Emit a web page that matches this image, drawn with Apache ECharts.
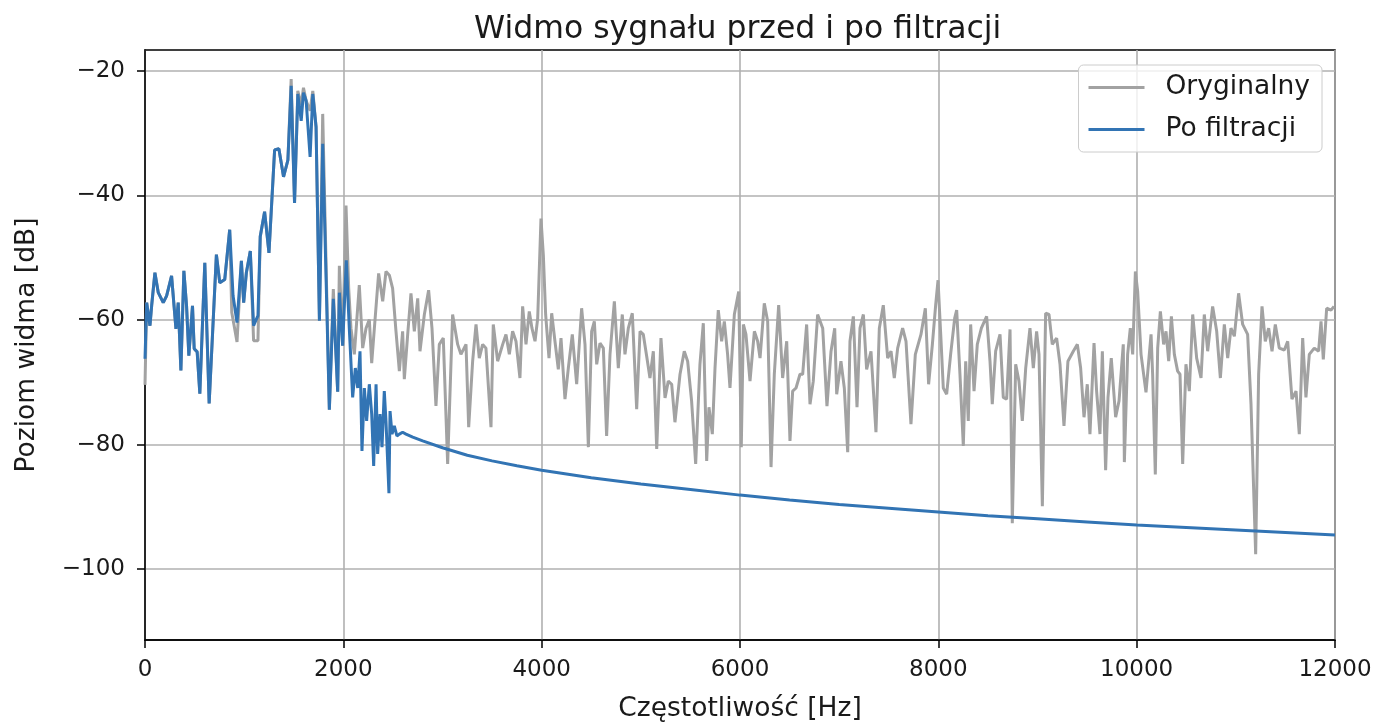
<!DOCTYPE html>
<html>
<head>
<meta charset="utf-8">
<script src="https://cdn.jsdelivr.net/npm/echarts@6/dist/echarts.min.js"></script>
<style>html,body{margin:0;padding:0;background:#fff}#c{width:1379px;height:728px}</style>
</head>
<body>
<div id="c"></div>
<script>
const titleText = 'Widmo sygnału przed i po filtracji';
const xName = 'Częstotliwość [Hz]';
const yName = 'Poziom widma [dB]';
const seriesNames = ['Oryginalny', 'Po filtracji'];
const xTicks = [0, 2000, 4000, 6000, 8000, 10000, 12000];
const yTicks = [-100, -80, -60, -40, -20];

const origFreq = [0,17,50,67,100,134,184,218,268,312,335,362,392,419,442,479,496,526,553,603,647,720,754,804,854,875,928,972,995,1022,1062,1095,1139,1162,1206,1250,1307,1350,1397,1441,1474,1508,1541,1575,1598,1625,1665,1692,1725,1759,1792,1859,1899,1943,1960,1993,2027,
2054,2077,2111,2161,2195,2229,2262,2286,2313,2356,2397,2430,2464,2497,2531,2565,2598,2615,2649,2682,2716,2750,2773,2817,2860,2894,2934,2968,3008,3052,3102,3153,3186,3237,3264,3304,3338,3371,3405,3438,3489,3512,3556,3607,3640,3674,3707,3741,3781,3808,3842,3875,3902,3933,3960,3993,
4017,4040,4074,4101,4134,4168,4195,4235,4269,4309,4353,4403,4437,4471,4504,4531,4555,4588,4622,4655,4689,4733,4773,4813,4840,4874,4914,4958,4992,5025,5059,5092,5126,5160,5203,5244,5277,5311,5344,5395,5438,5472,5512,5553,5596,5630,5664,5687,5721,5748,5781,5815,5842,5875,5899,5943,
5987,6013,6034,6060,6101,6145,6178,6202,6245,6279,6313,6346,6390,6430,6471,6504,6531,6565,6605,6632,6672,6706,6739,6783,6834,6877,6918,6955,6975,7018,7052,7086,7109,7143,7180,7210,7244,7277,7321,7371,7405,7445,7489,7523,7556,7590,7640,7674,7724,7768,7825,7869,7902,
7940,7973,7997,8024,8050,8084,8124,8165,8185,8218,8252,8276,8302,8326,8360,8393,8434,8487,8521,8544,8578,8622,8655,8689,8723,8746,8780,8813,8847,8881,8924,8958,8991,9015,9049,9082,9116,9149,9193,9227,9267,9307,9361,9402,9435,9469,9502,9529,9570,9596,9630,9654,9687,9711,9744,9788,9822,9865,
9876,9909,9936,9960,9987,10010,10044,10094,10145,10161,10188,10212,10239,10272,10296,10323,10350,10380,10413,10437,10464,10497,10531,10565,10605,10649,10682,10716,10766,10807,10844,10884,10918,10951,10985,11028,11069,11119,11153,11200,11230,11264,11297,11331,11365,11398,11438,11489,11523,11566,11607,11640,11674,11707,11741,11791,11835,11859,11882,11916,11960,11990];
const origDb = [-70.4,-57.2,-60.9,-57.7,-52.4,-55.6,-57.2,-56.1,-52.9,-61.4,-57.2,-68.1,-52.1,-57.7,-65.7,-57.7,-64.6,-65.1,-71.8,-50.8,-73.4,-49.5,-54.0,-53.5,-45.5,-58.8,-63.5,-50.5,-57.2,-52.4,-48.9,-63.3,-63.3,-46.6,-42.6,-49.2,-32.7,-32.5,-37.0,-34.3,-21.3,-41.2,-23.2,-25.5,-22.7,-24.8,-26.4,-23.2,-29.0,-60.1,-26.9,-74.4,-55.0,-71.5,-51.3,-64.1,-41.6,
-54.9,-61.3,-65.5,-54.4,-64.5,-61.3,-59.9,-66.9,-61.3,-52.5,-57.0,-52.2,-52.8,-54.9,-61.8,-68.2,-61.8,-69.5,-62.3,-55.7,-61.8,-56.5,-65.0,-59.1,-55.2,-61.3,-73.8,-63.9,-62.9,-83.1,-59.1,-63.9,-65.5,-63.9,-77.2,-66.6,-60.7,-66.1,-63.9,-64.5,-77.2,-60.7,-66.6,-63.9,-62.3,-65.5,-61.8,-63.4,-69.3,-57.8,-63.9,-58.6,-61.3,-63.4,-59.7,-43.7,
-49.6,-59.1,-66.1,-58.9,-63.4,-67.9,-62.9,-72.7,-67.7,-62.3,-70.3,-58.1,-63.9,-80.4,-61.8,-60.2,-67.1,-63.7,-64.5,-78.6,-65.5,-57.0,-67.7,-59.1,-65.5,-61.3,-58.9,-74.3,-61.8,-62.3,-65.8,-69.3,-65.0,-80.7,-62.9,-72.5,-69.8,-70.3,-76.4,-68.7,-65.0,-66.6,-73.0,-83.1,-67.1,-60.5,-82.6,-74.0,-78.3,-67.7,-58.4,-63.4,-60.2,-65.5,-70.9,-59.1,
-55.4,-80.4,-60.7,-62.3,-69.8,-61.8,-63.4,-66.1,-57.3,-60.2,-83.6,-68.7,-57.6,-69.3,-63.4,-79.4,-71.4,-70.9,-68.7,-68.7,-60.7,-73.5,-69.8,-59.1,-61.3,-73.8,-65.0,-61.3,-71.9,-66.6,-70.9,-81.2,-63.4,-59.4,-74.0,-61.3,-59.1,-67.9,-65.0,-78.0,-61.3,-57.6,-66.1,-65.0,-69.3,-64.5,-61.3,-63.4,-76.7,-65.5,-62.3,-58.1,-70.3,
-63.9,-57.6,-53.6,-62.3,-70.9,-71.9,-65.5,-59.7,-58.4,-68.7,-80.2,-66.6,-76.2,-60.7,-71.4,-63.9,-61.3,-59.4,-66.6,-73.5,-65.0,-62.3,-72.4,-72.7,-61.5,-92.6,-67.1,-69.8,-76.2,-67.7,-61.3,-67.7,-61.8,-65.5,-89.9,-58.9,-59.1,-63.9,-62.9,-67.1,-77.0,-66.6,-65.0,-63.9,-67.7,-75.6,-70.3,-78.3,-63.7,-71.4,-78.3,-65.0,-84.1,-72.4,-66.1,-75.6,-73.0,-63.9,
-82.8,-65.5,-61.3,-65.5,-52.2,-55.4,-65.5,-71.6,-62.3,-68.7,-84.8,-64.5,-58.6,-63.9,-61.8,-66.6,-59.4,-65.5,-68.2,-68.7,-83.1,-67.1,-71.4,-59.1,-66.1,-69.3,-59.1,-65.0,-57.8,-61.8,-69.3,-60.7,-66.1,-61.3,-62.6,-55.7,-60.7,-62.3,-73.5,-97.6,-68.7,-57.8,-63.4,-61.3,-65.0,-60.7,-64.5,-64.8,-63.4,-72.7,-71.4,-78.3,-62.9,-72.4,-65.5,-64.5,-65.0,-60.2,-66.3,-58.1,-58.4,-57.8];

const filtFreq = [0,17,50,67,100,134,184,218,268,312,335,362,392,419,442,479,496,526,553,603,647,720,754,804,854,888,928,972,995,1022,1062,1095,1139,1162,1206,1250,1307,1350,1397,1441,1474,1508,1541,1575,1598,1625,1665,1692,1725,1759,1792,1859,1899,1943,1960,1993,2030,
2060,2094,2121,2145,2168,2188,2212,2235,2262,2286,2306,2330,2346,2370,2390,2413,2430,2460,2471,2491,2514,2540,2565,2598,2632,
2700,2800,3000,3250,3500,3750,4000,4500,5000,5500,6000,6500,7000,7500,8000,8500,9000,9500,10000,10500,11000,11500,12000];
const filtDb = [-66.2,-57.2,-60.9,-57.7,-52.4,-55.6,-57.2,-56.1,-52.9,-61.4,-57.2,-68.1,-52.1,-57.7,-65.7,-57.7,-64.6,-65.1,-71.8,-50.8,-73.4,-49.5,-54.0,-53.5,-45.5,-56.1,-60.4,-50.5,-57.2,-52.4,-48.9,-60.9,-59.3,-46.6,-42.6,-49.2,-32.7,-32.5,-37.0,-34.3,-22.4,-41.2,-23.7,-28.0,-23.5,-24.8,-33.8,-23.7,-29.0,-60.1,-31.7,-74.4,-56.6,-71.5,-55.6,-64.1,-50.4,
-61.3,-72.4,-67.7,-70.9,-65.0,-81.0,-70.9,-76.2,-70.3,-75.1,-83.4,-70.3,-81.5,-75.1,-80.4,-71.4,-76.2,-87.8,-74.6,-78.3,-77.0,-78.6,-78.3,-78.0,-78.3,
-78.8,-79.4,-80.5,-81.7,-82.6,-83.4,-84.1,-85.3,-86.3,-87.2,-88.1,-88.9,-89.6,-90.2,-90.8,-91.4,-91.9,-92.4,-92.9,-93.3,-93.7,-94.1,-94.5];

const toPairs = (xs, ys) => xs.map((x, i) => [x, ys[i]]);
const minusFmt = v => String(v).replace('-', '\u2212');
const FONT = 'DejaVu Sans';
const TEXT = '#1a1a1a';

const chart = echarts.init(document.getElementById('c'), null, {renderer: 'canvas'});
chart.setOption({
  animation: false,
  backgroundColor: '#fff',
  title: {
    text: titleText, left: 469, top: 9,
    textStyle: {fontFamily: FONT, fontSize: 31.5, fontWeight: 'normal', color: TEXT}
  },
  grid: {left: 145, right: 44, top: 50, bottom: 86, show: true, borderColor: '#000', borderWidth: 1.5, backgroundColor: 'transparent'},
  legend: {
    orient: 'vertical', right: 57, top: 65,
    data: seriesNames.map(n => ({name: n, icon: 'rect'})),
    itemWidth: 56, itemHeight: 3, itemGap: 15,
    padding: [9, 12, 9, 10],
    borderColor: '#cccccc', borderWidth: 1, borderRadius: 5,
    backgroundColor: 'rgba(255,255,255,0.8)',
    textStyle: {fontFamily: FONT, fontSize: 26.5, color: TEXT, padding: [0, 0, 0, 16]}
  },
  xAxis: {
    type: 'value', min: 0, max: 12000, interval: 2000,
    name: xName, nameLocation: 'middle', nameGap: 56,
    nameTextStyle: {fontFamily: FONT, fontSize: 26.5, color: TEXT},
    axisLine: {show: true, onZero: false, lineStyle: {color: '#000', width: 1.5}},
    axisTick: {show: true, length: 8, inside: false, customValues: xTicks, lineStyle: {color: '#000', width: 1.5}},
    axisLabel: {fontFamily: FONT, fontSize: 23, color: TEXT, margin: 19, customValues: xTicks, formatter: minusFmt},
    splitLine: {show: true, lineStyle: {color: '#b0b0b0', width: 1.6}}
  },
  yAxis: {
    type: 'value', min: -111.36, max: -16.64,
    name: yName, nameLocation: 'middle', nameGap: 104, nameRotate: 90,
    nameTextStyle: {fontFamily: FONT, fontSize: 26.5, color: TEXT},
    axisLine: {show: true, onZero: false, lineStyle: {color: '#000', width: 1.5}},
    axisTick: {show: true, length: 8, inside: false, customValues: yTicks, lineStyle: {color: '#000', width: 1.5}},
    axisLabel: {fontFamily: FONT, fontSize: 23, color: TEXT, margin: 20, customValues: yTicks, formatter: minusFmt},
    splitLine: {show: true, lineStyle: {color: '#b0b0b0', width: 1.6}}
  },
  series: [
    {
      name: seriesNames[0], type: 'line', data: toPairs(origFreq, origDb),
      showSymbol: false, symbol: 'none',
      lineStyle: {color: '#a2a2a2', width: 3}, itemStyle: {color: '#a2a2a2'}
    },
    {
      name: seriesNames[1], type: 'line', data: toPairs(filtFreq, filtDb),
      showSymbol: false, symbol: 'none',
      lineStyle: {color: '#3274b4', width: 3}, itemStyle: {color: '#3274b4'}
    }
  ]
});
</script>
</body>
</html>
